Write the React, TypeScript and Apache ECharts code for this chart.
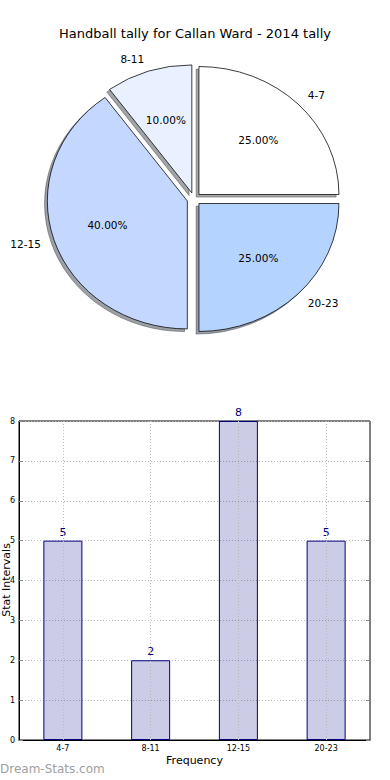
import React, { useEffect, useRef } from "react";
import * as echarts from "echarts";

const chartTitle = "Handball tally for Callan Ward - 2014 tally";
const categories = ["4-7", "8-11", "12-15", "20-23"];
const tallies = [5, 2, 8, 5];
const sliceColors = ["#ffffff", "#e9f0ff", "#c4d8ff", "#b4d4ff"];
const yMin = 0;
const yMax = 8;
const yInterval = 1;
const xAxisName = "Frequency";
const yAxisName = "Stat Intervals";
const watermark = "Dream-Stats.com";

const FONT = "DejaVu Sans";
const PIE_CX = 194;
const PIE_CY = 199;
const RX = 140;
const RY = 128;
const EXPLODE = 0.05;

function shadowColor(hex: string) {
  const n = parseInt(hex.slice(1), 16);
  const r = Math.round(((n >> 16) & 255) * 0.3);
  const g = Math.round(((n >> 8) & 255) * 0.3);
  const b = Math.round((n & 255) * 0.3);
  return `rgba(${r},${g},${b},0.5)`;
}

export default function App() {
  const ref = useRef<HTMLDivElement>(null);
  useEffect(() => {
    if (!ref.current) return;
    const chart = echarts.init(ref.current, null, { renderer: "svg" });
    const total = tallies.reduce((a, b) => a + b, 0);

    const option: any = {
      animation: false,
      backgroundColor: "#ffffff",
      title: {
        text: chartTitle,
        left: "center",
        top: 22,
        textStyle: { fontSize: 13, fontWeight: "normal", color: "#000", fontFamily: FONT },
      },
      grid: {
        left: 19,
        right: 20,
        top: 421,
        bottom: 40,
        containLabel: false,
        outerBoundsMode: "none",
        show: true,
        borderColor: "#000",
        borderWidth: 1,
        backgroundColor: "transparent",
      },
      xAxis: [
        {
          type: "category",
          data: categories,
          position: "bottom",
          name: xAxisName,
          nameLocation: "middle",
          nameGap: 15,
          nameTextStyle: { fontSize: 11, color: "#000", fontFamily: FONT },
          axisLine: { lineStyle: { color: "#000" } },
          axisTick: { inside: true, alignWithLabel: true, length: 4, lineStyle: { color: "#888" } },
          axisLabel: { fontSize: 8, color: "#000", fontFamily: FONT, margin: 4 },
          splitLine: { show: false },
        },
        {
          type: "category",
          data: categories,
          position: "top",
          axisLine: { show: false },
          axisTick: { inside: true, alignWithLabel: true, length: 4, lineStyle: { color: "#888" } },
          axisLabel: { show: false },
          splitLine: { show: false },
        },
      ],
      yAxis: [
        {
          type: "value",
          min: yMin,
          max: yMax,
          interval: yInterval,
          axisLine: { show: true, lineStyle: { color: "#000" } },
          axisTick: { show: true, inside: true, length: 4, lineStyle: { color: "#888" } },
          axisLabel: { fontSize: 8, color: "#000", fontFamily: FONT, margin: 4 },
          splitLine: { show: true, lineStyle: { color: "#bbbbbb", type: [1, 2], width: 1 } },
        },
        {
          type: "value",
          min: yMin,
          max: yMax,
          interval: yInterval,
          position: "right",
          axisLine: { show: false },
          axisTick: { show: true, inside: true, length: 4, lineStyle: { color: "#888" } },
          axisLabel: { show: false },
          splitLine: { show: false },
        },
      ],
      graphic: [
        {
          type: "text",
          x: 6,
          y: 580,
          rotation: Math.PI / 2,
          style: {
            text: yAxisName,
            fontSize: 11,
            fill: "#000",
            fontFamily: FONT,
            align: "center",
            verticalAlign: "middle",
          },
        },
        {
          type: "text",
          left: 0,
          top: 763,
          style: { text: watermark, fontSize: 12, fill: "#a0a0a0", fontFamily: FONT },
        },
      ],
      series: [
        {
          type: "bar",
          xAxisIndex: 0,
          yAxisIndex: 0,
          data: tallies,
          barWidth: 39,
          itemStyle: { color: "rgba(0,0,128,0.2)", borderColor: "#000080", borderWidth: 1 },
          label: { show: true, position: "top", distance: 3, color: "#000080", fontSize: 11, fontFamily: FONT },
          markLine: {
            silent: true,
            symbol: "none",
            label: { show: false },
            lineStyle: { color: "#bbbbbb", type: [1, 2], width: 1 },
            data: categories.map((c) => ({ xAxis: c })),
          },
        },
        {
          type: "custom",
          coordinateSystem: "none",
          data: tallies.map((v, i) => [v, i]),
          renderItem: (params: any, api: any) => {
            const i = params.dataIndex;
            let cum = 0;
            for (let j = 0; j < i; j++) cum += tallies[j];
            const v = api.value(0);
            const t1 = (2 * Math.PI * cum) / total;
            const t2 = t1 + (2 * Math.PI * v) / total;
            const mid = (t1 + t2) / 2;
            const c = Math.cos(mid);
            const s = Math.sin(mid);
            const wx = PIE_CX + EXPLODE * RX * c;
            const wy = PIE_CY - EXPLODE * RY * s;
            const sector = (x: number, y: number, fill: string, stroke: string, lw: number, z2: number) => ({
              type: "sector",
              x,
              y,
              scaleX: 1,
              scaleY: RY / RX,
              z2,
              shape: { cx: 0, cy: 0, r: RX, r0: 0, startAngle: -t2, endAngle: -t1, clockwise: true },
              style: { fill, stroke, lineWidth: lw, strokeNoScale: true },
            });
            const sc = shadowColor(sliceColors[i]);
            return {
              type: "group",
              children: [
                sector(wx - 2.8, wy + 2.6, sc, sc, 1, 1),
                sector(wx, wy, sliceColors[i], "#000", 0.8, 10),
                {
                  type: "text",
                  z2: 20,
                  x: wx + 1.1 * RX * c,
                  y: wy - 1.1 * RY * s,
                  style: {
                    text: categories[i],
                    fontSize: 10.5,
                    fontFamily: FONT,
                    fill: "#000",
                    align: c >= 0 ? "left" : "right",
                    verticalAlign: "middle",
                  },
                },
                {
                  type: "text",
                  z2: 20,
                  x: wx + 0.6 * RX * c,
                  y: wy - 0.6 * RY * s,
                  style: {
                    text: ((v / total) * 100).toFixed(2) + "%",
                    fontSize: 10.5,
                    fontFamily: FONT,
                    fill: "#000",
                    align: "center",
                    verticalAlign: "middle",
                  },
                },
              ],
            };
          },
        },
      ],
    };
    chart.setOption(option);
    return () => chart.dispose();
  }, []);
  return <div ref={ref} style={{ position: "absolute", left: 0, top: 0, width: 390, height: 780 }} />;
}
